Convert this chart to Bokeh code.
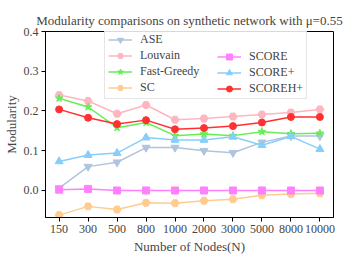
from bokeh.plotting import figure
from bokeh.models import Range1d, FixedTicker, Legend, LegendItem, Title
from bokeh.embed import file_html
from bokeh.resources import INLINE

nodes = ["150", "300", "500", "800", "1000", "2000", "3000", "5000", "8000", "10000"]
ase = [0.006, 0.060, 0.071, 0.108, 0.108, 0.100, 0.095, 0.121, 0.137, 0.137]
louvain = [0.240, 0.225, 0.193, 0.215, 0.178, 0.181, 0.186, 0.191, 0.196, 0.204]
fast_greedy = [0.232, 0.210, 0.158, 0.171, 0.138, 0.142, 0.138, 0.148, 0.143, 0.144]
sc = [-0.062, -0.040, -0.048, -0.031, -0.032, -0.026, -0.022, -0.012, -0.009, -0.007]
score = [0.002, 0.004, 0.000, 0.000, 0.000, 0.000, 0.000, 0.000, 0.000, 0.000]
score_plus = [0.073, 0.089, 0.094, 0.133, 0.127, 0.127, 0.135, 0.114, 0.136, 0.104]
scoreh_plus = [0.204, 0.183, 0.167, 0.177, 0.154, 0.157, 0.162, 0.171, 0.185, 0.185]
y_ticks = [0.0, 0.1, 0.2, 0.3, 0.4]

FONT = "Liberation Serif"
xs = list(range(len(nodes)))

p = figure(width=349, height=256, output_backend="svg", toolbar_location=None,
           x_range=Range1d(-0.47, 9.47), y_range=Range1d(-0.068, 0.4),
           min_border_left=40, min_border_right=16, min_border_top=31, min_border_bottom=39)
p.title = Title(text="Modularity comparisons on synthetic network with \u03bc=0.55",
                text_font=FONT, text_font_size="13px", text_font_style="normal",
                align="center", standoff=7)
p.grid.visible = False
p.outline_line_color = "black"
p.outline_line_width = 1

p.xaxis.ticker = FixedTicker(ticks=xs)
p.xaxis.major_label_overrides = {i: n for i, n in enumerate(nodes)}
p.yaxis.ticker = FixedTicker(ticks=y_ticks)
p.yaxis.major_label_overrides = {t: f"{t:.1f}" for t in y_ticks}
for ax in (p.xaxis, p.yaxis):
    ax.major_tick_in = 0
    ax.major_tick_out = 4
    ax.minor_tick_out = 0
    ax.minor_tick_in = 0
    ax.major_label_text_font = FONT
    ax.major_label_text_font_size = "12px"
    ax.axis_label_text_font = FONT
    ax.axis_label_text_font_size = "13px"
    ax.axis_label_text_font_style = "normal"
    ax.axis_line_color = "black"
    ax.major_tick_line_color = "black"
p.xaxis.axis_label = "Number of Nodes(N)"
p.yaxis.axis_label = "Modularity"
p.xaxis.major_label_standoff = 3
p.yaxis.major_label_standoff = 3
p.xaxis.axis_label_standoff = 3
p.yaxis.axis_label_standoff = 2

series = [
    ("ASE", ase, "#b0c4de", "inverted_triangle", 8),
    ("Louvain", louvain, "#ffb6c1", "hex", 8),
    ("Fast-Greedy", fast_greedy, "#66ee55", "star", 8),
    ("SC", sc, "#ffcc90", "hex", 8),
    ("SCORE", score, "#ff80ff", "square", 7),
    ("SCORE+", score_plus, "#87cefa", "triangle", 8),
    ("SCOREH+", scoreh_plus, "#ff3030", "circle", 7),
]
items = []
for name, ys, color, marker, size in series:
    l = p.line(xs, ys, line_color=color, line_width=1.5)
    s = p.scatter(xs, ys, marker=marker, size=size, fill_color=color, line_color=color)
    items.append(LegendItem(label=name, renderers=[l, s]))

common = dict(label_text_font=FONT, label_text_font_size="12px", glyph_width=24,
              glyph_height=15, label_height=15, spacing=1, label_standoff=8,
              padding=3, margin=0)
leg1 = Legend(items=items[:4], location=(59, 118), border_line_color="#cccccc",
              background_fill_alpha=0.85, label_width=163, **common)
leg2 = Legend(items=items[4:], location=(169, 118), border_line_alpha=0,
              background_fill_alpha=0, **common)
p.add_layout(leg1, "center")
p.add_layout(leg2, "center")

open("out.html", "w").write(file_html(p, INLINE))
